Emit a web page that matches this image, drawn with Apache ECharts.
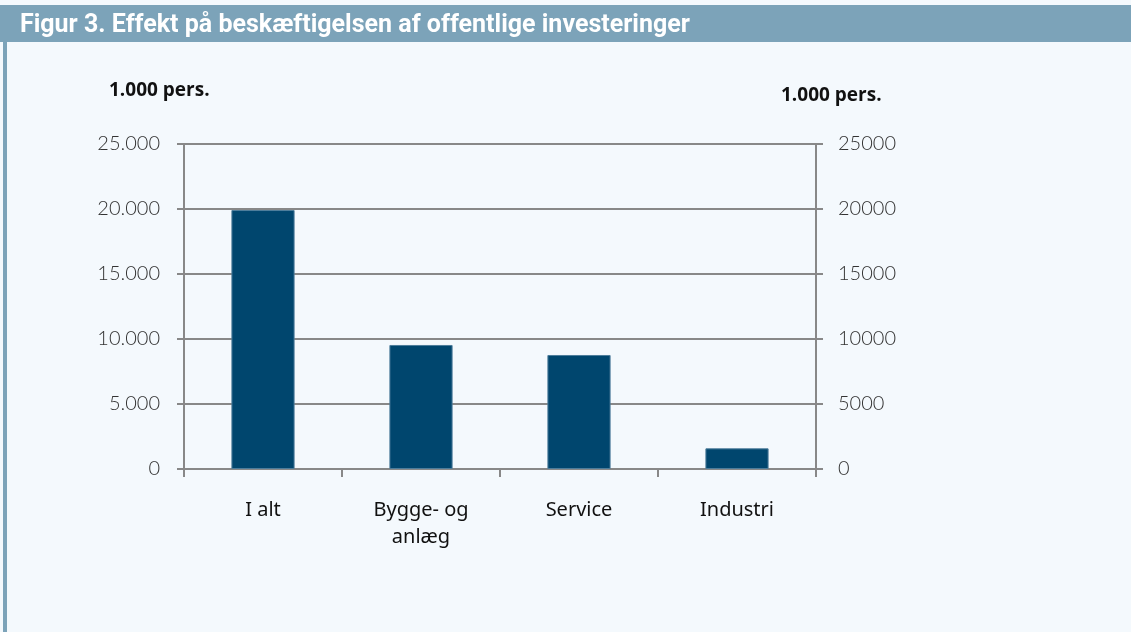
<!DOCTYPE html>
<html>
<head>
<meta charset="utf-8">
<script src="https://cdn.jsdelivr.net/npm/echarts@6/dist/echarts.min.js"></script>
<style>
  html, body { margin: 0; padding: 0; background: #f4f9fd; }
  #chart { width: 1131px; height: 632px; }
</style>
</head>
<body>
<div id="chart"></div>
<script>
var categories = ['I alt', 'Bygge- og\nanlæg', 'Service', 'Industri'];
var values = [19920, 9540, 8770, 1590];
var axisMax = 25000;
var axisStep = 5000;

var chart = echarts.init(document.getElementById('chart'));

// tusindtalsseparator med punktum
function dkNumber(v) {
    return String(v).replace(/\B(?=(\d{3})+(?!\d))/g, '.');
}

var axisText = { color: '#333', fontFamily: 'Lato', fontWeight: 300, fontSize: 20 };

option = {
    backgroundColor: '#f4f9fd',
    animation: false,
    graphic: [
        { type: 'rect', shape: { x: 0, y: 5, width: 1131, height: 37 }, style: { fill: '#7ca3b9' } },
        { type: 'rect', shape: { x: 3, y: 42, width: 4, height: 590 }, style: { fill: '#7ca3b9' } },
        { type: 'text', left: 20, top: 13, style: { text: 'Figur 3. Effekt på beskæftigelsen af offentlige investeringer', fill: '#fff', font: 'bold 25px Roboto' } },
        { type: 'text', left: 109, top: 81, style: { text: '1.000 pers.', fill: '#111', font: 'bold 19px "Open Sans"' } },
        { type: 'text', left: 781, top: 86, style: { text: '1.000 pers.', fill: '#111', font: 'bold 19px "Open Sans"' } }
    ],
    grid: { left: 184, right: 315, top: 144, bottom: 163 },
    xAxis: {
        type: 'category',
        data: categories,
        axisLine: { lineStyle: { color: '#888', width: 2 } },
        axisTick: { show: true, length: 8, lineStyle: { color: '#888', width: 2 } },
        axisLabel: { color: '#111', fontFamily: 'Noto Sans', fontSize: 20, margin: 28, lineHeight: 27 }
    },
    yAxis: [{
        type: 'value',
        min: 0, max: axisMax, interval: axisStep,
        axisLine: { show: true, lineStyle: { color: '#888', width: 2 } },
        axisTick: { show: true, length: 7, lineStyle: { color: '#888', width: 2 } },
        splitLine: { lineStyle: { color: '#888', width: 2 } },
        axisLabel: Object.assign({ margin: 24, formatter: dkNumber }, axisText)
    }, {
        type: 'value',
        position: 'right',
        min: 0, max: axisMax, interval: axisStep,
        axisLine: { show: true, lineStyle: { color: '#888', width: 2 } },
        axisTick: { show: true, length: 7, lineStyle: { color: '#888', width: 2 } },
        splitLine: { show: false },
        axisLabel: Object.assign({ margin: 22, formatter: function(v) { return String(v); } }, axisText)
    }],
    series: [{
        type: 'bar',
        data: values,
        barWidth: '40%',
        itemStyle: { color: '#00466e', borderColor: '#4d7d9b', borderWidth: 1 }
    }]
};
chart.setOption(option);
</script>
</body>
</html>
